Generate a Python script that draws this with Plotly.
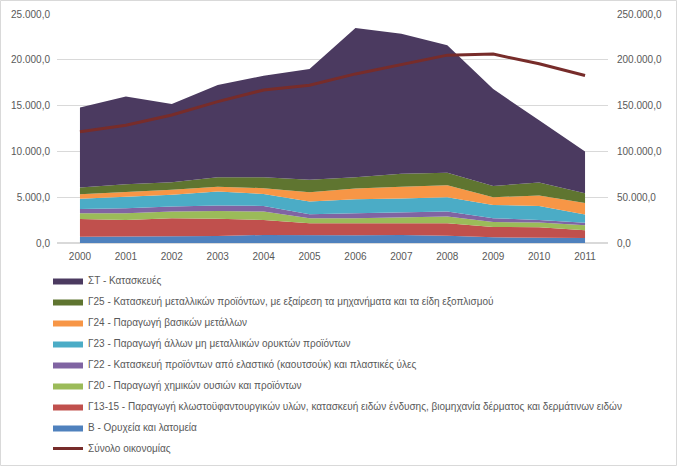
import plotly.graph_objects as go

years = [str(y) for y in range(2000, 2012)]

b_mining = [690, 690, 770, 770, 880, 840, 840, 880, 800, 620, 620, 550]
g13_15 = [1940, 1830, 1930, 1890, 1640, 1310, 1310, 1270, 1350, 1130, 1100, 830]
g20 = [620, 730, 730, 840, 910, 550, 550, 620, 730, 550, 510, 570]
g22 = [470, 550, 550, 590, 620, 440, 550, 550, 550, 400, 290, 250]
g23 = [1100, 1200, 1280, 1530, 1310, 1390, 1530, 1530, 1570, 1450, 1530, 920]
g24 = [510, 550, 540, 510, 630, 1020, 1170, 1280, 1310, 850, 1130, 1260]
g25 = [730, 870, 840, 1060, 1200, 1350, 1240, 1420, 1350, 1220, 1430, 1040]
st = [8720, 9570, 8540, 10070, 11060, 12100, 16280, 15300, 13940, 10580, 6790, 4580]
total_economy = [121500, 128500, 139800, 154300, 167100, 172300, 184600, 195200, 205100, 206200, 195600, 182800]

series = [
    ("B - Ορυχεία και λατομεία", b_mining, "#4F81BD"),
    ("Γ13-15 - Παραγωγή κλωστοϋφαντουργικών υλών, κατασκευή ειδών ένδυσης, βιομηχανία δέρματος και δερμάτινων ειδών", g13_15, "#C0504D"),
    ("Γ20 - Παραγωγή χημικών ουσιών και προϊόντων", g20, "#9BBB59"),
    ("Γ22 - Κατασκευή προϊόντων από ελαστικό (καουτσούκ) και πλαστικές ύλες", g22, "#8064A2"),
    ("Γ23 - Παραγωγή άλλων μη μεταλλικών ορυκτών προϊόντων", g23, "#4BACC6"),
    ("Γ24 - Παραγωγή βασικών μετάλλων", g24, "#F79646"),
    ("Γ25 - Κατασκευή μεταλλικών προϊόντων, με εξαίρεση τα μηχανήματα και τα είδη εξοπλισμού", g25, "#5F7530"),
    ("ΣΤ - Κατασκευές", st, "#4B3A60"),
]

fig = go.Figure()
n = len(series)
for i, (name, vals, col) in enumerate(series):
    fig.add_trace(go.Scatter(
        x=years, y=vals, name=name, mode="lines",
        stackgroup="one", line=dict(width=0, color=col), fillcolor=col,
        legendrank=n - i, legendgroup=f"g{i}",
    ))

fig.add_trace(go.Scatter(
    x=years, y=total_economy, name="Σύνολο οικονομίας", mode="lines",
    line=dict(width=3, color="#772C2A"), yaxis="y2",
    legendrank=n + 1, legendgroup="gline",
))

font = dict(family="Liberation Sans, Arial, sans-serif", size=10, color="#595959")

PL, PR, PT, PB = 57, 608, 14, 243
pw, ph = PR - PL, PB - PT

fig.update_layout(
    width=677, height=466,
    margin=dict(l=PL, r=677 - PR, t=PT, b=466 - PB, autoexpand=False),
    paper_bgcolor="white", plot_bgcolor="white",
    font=font,
    separators=",.",
    showlegend=True,
    legend=dict(
        x=-9 / pw, xanchor="left", y=(PB - 266) / ph, yanchor="top",
        orientation="v", traceorder="grouped", tracegroupgap=2,
        font=font, itemwidth=30, bgcolor="rgba(0,0,0,0)",
    ),
    xaxis=dict(
        type="category", range=[-0.5, 11.5], showgrid=False,
        showline=False, ticks="", tickfont=font, fixedrange=True,
        ticklabelstandoff=6,
    ),
    yaxis=dict(
        range=[0, 25000], dtick=5000, tickformat=",.1f",
        showgrid=True, gridcolor="#D9D9D9", gridwidth=1, zeroline=True,
        zerolinecolor="#D9D9D9", showline=False, ticks="", tickfont=font,
        ticklabelstandoff=6,
    ),
    yaxis2=dict(
        range=[0, 250000], dtick=50000, tickformat=",.1f",
        overlaying="y", side="right", showgrid=False, zeroline=False,
        showline=False, ticks="", tickfont=font, ticklabelstandoff=8,
    ),
    shapes=[dict(
        type="rect", xref="paper", yref="paper",
        x0=(0.5 - PL) / pw, x1=(676.5 - PL) / pw,
        y0=(PB - 465.5) / ph, y1=(PB - 0.5) / ph,
        line=dict(color="#D9D9D9", width=1), fillcolor="rgba(0,0,0,0)", layer="below",
    )],
)

fig.write_html(
    "out.html",
    config={"displayModeBar": False},
    post_script="document.body.style.margin='0';document.body.style.padding='0';document.body.style.overflow='hidden';",
)
